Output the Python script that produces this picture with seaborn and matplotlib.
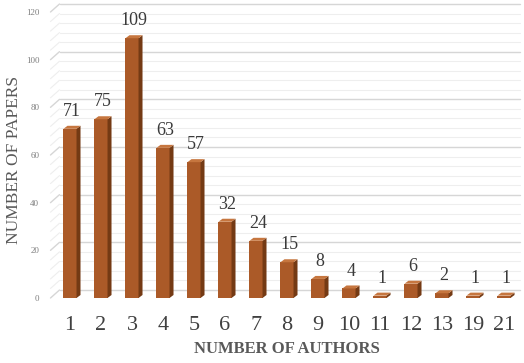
import matplotlib
matplotlib.use("Agg")
import matplotlib.pyplot as plt
import seaborn as sns
import pandas as pd
from matplotlib.patches import Polygon
from matplotlib.lines import Line2D

authors = ["1", "2", "3", "4", "5", "6", "7", "8", "9", "10", "11", "12", "13", "19", "21"]
papers = [71, 75, 109, 63, 57, 32, 24, 15, 8, 4, 1, 6, 2, 1, 1]
y_ticks = [0, 20, 40, 60, 80, 100, 120]

sns.set_theme(style="white")
plt.rcParams['font.family'] = ['Liberation Serif', 'DejaVu Serif']

W, H = 524, 363
fig = plt.figure(figsize=(W / 100, H / 100), dpi=100)
ax_l, ax_r, ax_b, ax_t = 54.5, 519.5, 298, 12
ax = fig.add_axes([ax_l / W, (H - ax_b) / H, (ax_r - ax_l) / W, (ax_b - ax_t) / H])

df = pd.DataFrame({"authors": authors, "papers": papers})
front = "#AB5A28"
side = "#743A14"
top = "#C6763F"

# back wall gridlines (drawn first)
pxx = (ax_r - ax_l) / 15.0
pxy = (ax_b - ax_t) / 120.0
gdx, gdy = 9 / pxx, 8 / pxy
for v in range(0, 121, 4):
    major = v % 20 == 0
    col = "#d6d6d6" if major else "#eeeeee"
    lw = 1.0 if major else 0.8
    ax.add_line(Line2D([-0.5 - 4 / pxx + gdx, 14.5], [v + gdy, v + gdy], color=col, lw=lw, zorder=0, clip_on=False))
    ax.add_line(Line2D([-0.5 - 4 / pxx, -0.5 - 4 / pxx + gdx], [v, v + gdy], color=col, lw=lw, zorder=0, clip_on=False))

sns.barplot(data=df, x="authors", y="papers", color=front, width=0.42,
            saturation=1, ax=ax, zorder=3, edgecolor="none", order=authors)

ddx, ddy = 4 / pxx, 3 / pxy
for p in ax.patches:
    x0 = p.get_x()
    w = p.get_width()
    h = p.get_height()
    x1 = x0 + w
    ax.add_patch(Polygon([[x1, 0], [x1 + ddx, ddy], [x1 + ddx, h + ddy], [x1, h]],
                         closed=True, facecolor=side, edgecolor="none", zorder=3))
    ax.add_patch(Polygon([[x0, h], [x0 + ddx, h + ddy], [x1 + ddx, h + ddy], [x1, h]],
                         closed=True, facecolor=top, edgecolor="none", zorder=3))
    ax.text(x0 + w / 2 + ddx / 2, h + ddy + 2.5, f"{int(round(h))}", ha="center", va="bottom",
            fontsize=13, color="#3a3a3a", zorder=5)

ax.set_xlim(-0.5, 14.5)
ax.set_ylim(0, 120)
ax.set_yticks(y_ticks)
ax.set_yticklabels([str(t) for t in y_ticks], fontsize=6.5, color="#7f7f7f")
ax.tick_params(axis="y", length=0, pad=11)
ax.tick_params(axis="x", length=0, pad=13, labelsize=16, labelcolor="#404040")
for s in ax.spines.values():
    s.set_visible(False)
ax.set_xlabel("NUMBER OF AUTHORS", fontsize=12, color="#595959", fontweight="bold", labelpad=4)
ax.set_ylabel("NUMBER OF PAPERS", fontsize=12.5, color="#595959")
ax.yaxis.set_label_coords(-0.069, 0.483)
ax.grid(False)

fig.savefig("out.png", dpi=100)
